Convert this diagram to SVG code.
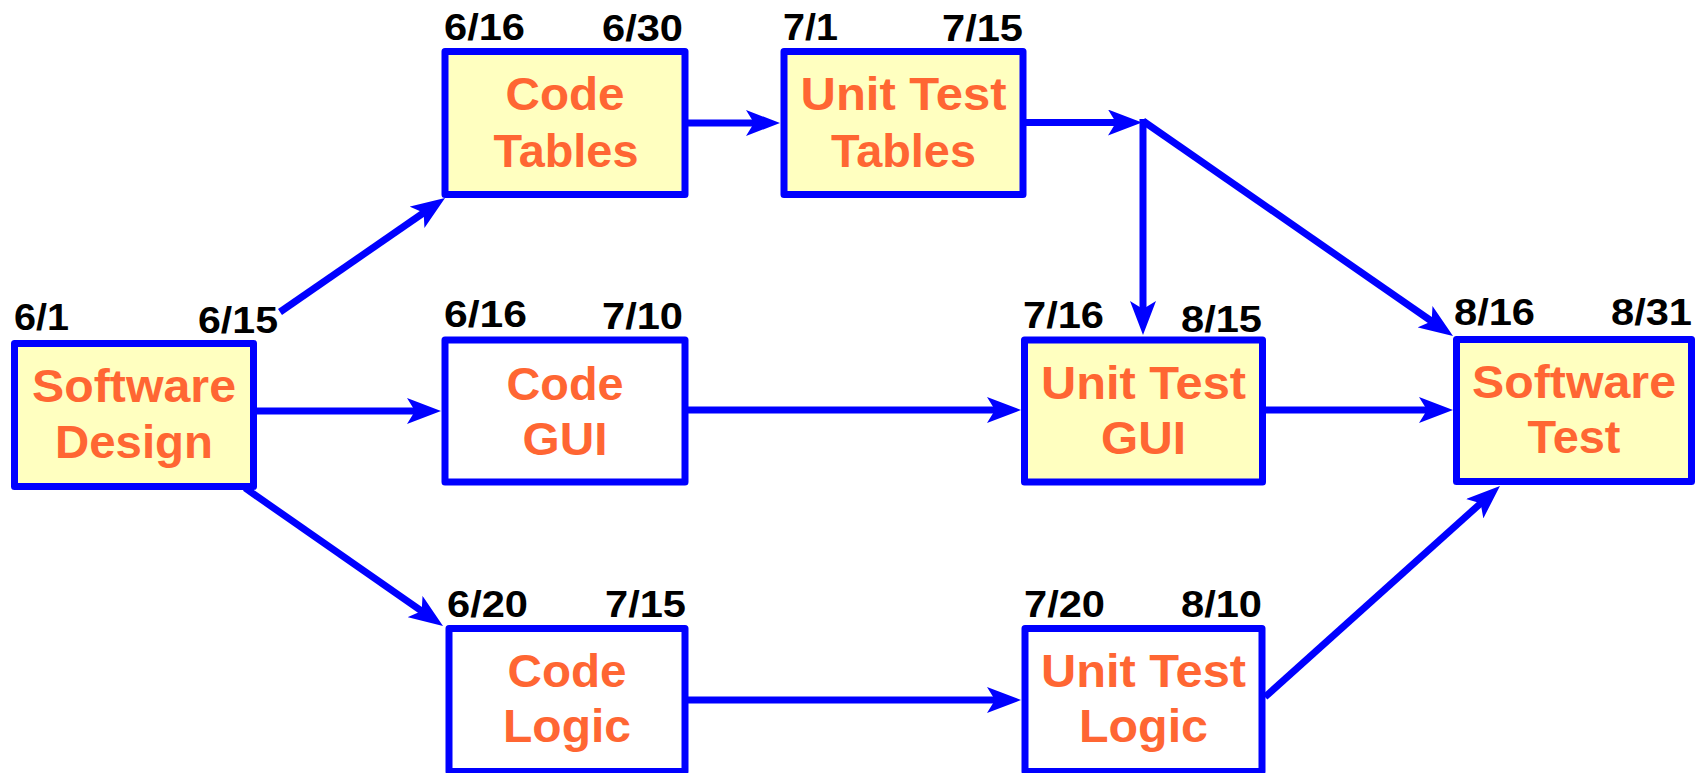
<svg xmlns="http://www.w3.org/2000/svg" width="1699" height="773" viewBox="0 0 1699 773">
<style>
.box{stroke:#0000FF;stroke-width:7;stroke-linejoin:round}
.y{fill:#FFFFC0}
.w{fill:#FFFFFF}
.t{font-family:"Liberation Sans",Arial,sans-serif;font-weight:bold;font-size:46px;fill:#FF6633;text-anchor:middle}
.d{font-family:"Liberation Sans",Arial,sans-serif;font-weight:bold;font-size:36px;fill:#000000}
.e{text-anchor:end}
.c{stroke:#0000FF;stroke-width:7;fill:none;marker-end:url(#ah)}
</style>
<defs>
<marker id="ah" markerUnits="userSpaceOnUse" viewBox="0 0 34 26" refX="19" refY="13" markerWidth="34" markerHeight="26" orient="auto">
<path d="M0,0 L34,13 L0,26 L8,13 Z" fill="#0000FF"/>
</marker>
</defs>
<rect width="1699" height="773" fill="#FFFFFF"/>
<g id="connectors">
<line class="c" x1="280" y1="312" x2="432.7" y2="206.5"/>
<line class="c" x1="257" y1="411" x2="426" y2="411"/>
<line class="c" x1="245" y1="488" x2="430.7" y2="617.4"/>
<line class="c" x1="688" y1="123" x2="765" y2="123"/>
<line class="c" x1="1026" y1="122.5" x2="1127" y2="122.5"/>
<line class="c" x1="1143" y1="119" x2="1143" y2="320"/>
<line class="c" x1="1143" y1="121" x2="1440.7" y2="327.5"/>
<line class="c" x1="688" y1="410" x2="1006" y2="410"/>
<line class="c" x1="1266" y1="410" x2="1438" y2="410"/>
<line class="c" x1="688" y1="700" x2="1006" y2="700"/>
<line class="c" x1="1265" y1="697" x2="1488.8" y2="496"/>
</g>
<g id="software-design">
<rect class="box y" x="14.5" y="343.5" width="239" height="143"/>
<text class="t" x="134" y="402" textLength="204" lengthAdjust="spacingAndGlyphs">Software</text>
<text class="t" x="134" y="458" textLength="158" lengthAdjust="spacingAndGlyphs">Design</text>
<text class="d" x="14" y="330" textLength="55" lengthAdjust="spacingAndGlyphs">6/1</text>
<text class="d e" x="278" y="333" textLength="80" lengthAdjust="spacingAndGlyphs">6/15</text>
</g>
<g id="code-tables">
<rect class="box y" x="445" y="51.5" width="240" height="143"/>
<text class="t" x="565" y="110" textLength="119" lengthAdjust="spacingAndGlyphs">Code</text>
<text class="t" x="566" y="167" textLength="145" lengthAdjust="spacingAndGlyphs">Tables</text>
<text class="d" x="444" y="40" textLength="81" lengthAdjust="spacingAndGlyphs">6/16</text>
<text class="d e" x="683" y="41" textLength="81" lengthAdjust="spacingAndGlyphs">6/30</text>
</g>
<g id="unit-test-tables">
<rect class="box y" x="784" y="51.5" width="239" height="143"/>
<text class="t" x="903.5" y="110" textLength="206" lengthAdjust="spacingAndGlyphs">Unit Test</text>
<text class="t" x="903.5" y="167" textLength="145" lengthAdjust="spacingAndGlyphs">Tables</text>
<text class="d" x="783" y="40" textLength="55" lengthAdjust="spacingAndGlyphs">7/1</text>
<text class="d e" x="1023" y="41" textLength="81" lengthAdjust="spacingAndGlyphs">7/15</text>
</g>
<g id="code-gui">
<rect class="box w" x="445" y="340" width="240" height="142"/>
<text class="t" x="565" y="400" textLength="117" lengthAdjust="spacingAndGlyphs">Code</text>
<text class="t" x="565" y="455" textLength="85" lengthAdjust="spacingAndGlyphs">GUI</text>
<text class="d" x="444" y="327" textLength="83" lengthAdjust="spacingAndGlyphs">6/16</text>
<text class="d e" x="683" y="329" textLength="81" lengthAdjust="spacingAndGlyphs">7/10</text>
</g>
<g id="unit-test-gui">
<rect class="box y" x="1024.5" y="340" width="238" height="142"/>
<text class="t" x="1143.5" y="399" textLength="205" lengthAdjust="spacingAndGlyphs">Unit Test</text>
<text class="t" x="1143.5" y="454" textLength="85" lengthAdjust="spacingAndGlyphs">GUI</text>
<text class="d" x="1023" y="328" textLength="81" lengthAdjust="spacingAndGlyphs">7/16</text>
<text class="d e" x="1262" y="332" textLength="81" lengthAdjust="spacingAndGlyphs">8/15</text>
</g>
<g id="software-test">
<rect class="box y" x="1456.5" y="339.5" width="235" height="142"/>
<text class="t" x="1574" y="398" textLength="204" lengthAdjust="spacingAndGlyphs">Software</text>
<text class="t" x="1574" y="453" textLength="93" lengthAdjust="spacingAndGlyphs">Test</text>
<text class="d" x="1454" y="325" textLength="81" lengthAdjust="spacingAndGlyphs">8/16</text>
<text class="d e" x="1692" y="325" textLength="81" lengthAdjust="spacingAndGlyphs">8/31</text>
</g>
<g id="code-logic">
<rect class="box w" x="449" y="628.5" width="236" height="143"/>
<text class="t" x="567" y="687" textLength="119" lengthAdjust="spacingAndGlyphs">Code</text>
<text class="t" x="567" y="742" textLength="128" lengthAdjust="spacingAndGlyphs">Logic</text>
<text class="d" x="447" y="617" textLength="81" lengthAdjust="spacingAndGlyphs">6/20</text>
<text class="d e" x="686" y="617" textLength="81" lengthAdjust="spacingAndGlyphs">7/15</text>
</g>
<g id="unit-test-logic">
<rect class="box w" x="1025" y="628.5" width="237" height="143"/>
<text class="t" x="1143.5" y="687" textLength="205" lengthAdjust="spacingAndGlyphs">Unit Test</text>
<text class="t" x="1143.5" y="742" textLength="129" lengthAdjust="spacingAndGlyphs">Logic</text>
<text class="d" x="1024" y="617" textLength="81" lengthAdjust="spacingAndGlyphs">7/20</text>
<text class="d e" x="1262" y="617" textLength="81" lengthAdjust="spacingAndGlyphs">8/10</text>
</g>
</svg>
